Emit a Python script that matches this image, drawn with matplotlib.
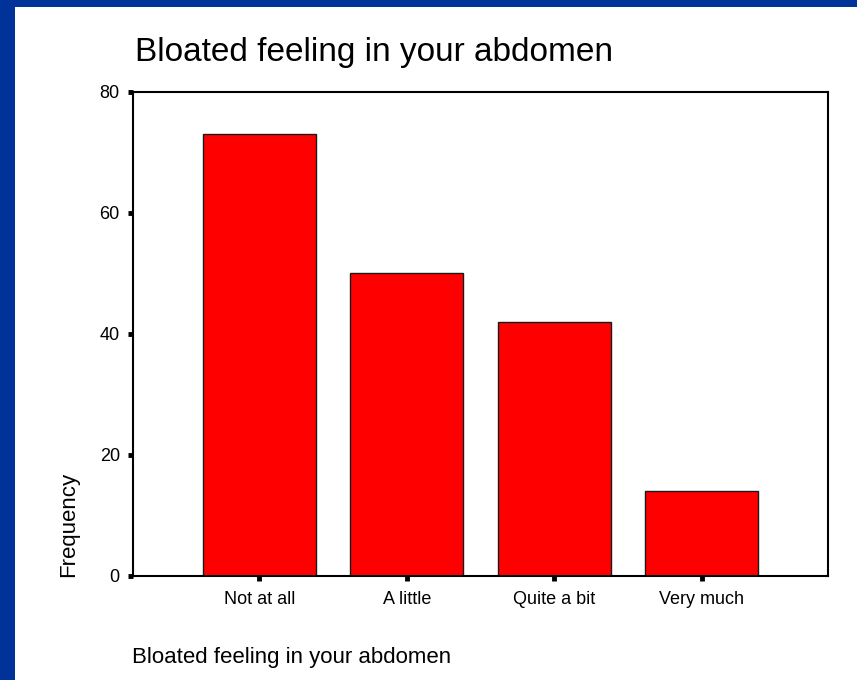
import matplotlib
matplotlib.use('Agg')
import matplotlib.pyplot as plt
from matplotlib.patches import Rectangle

# Data
categories = ['Not at all', 'A little', 'Quite a bit', 'Very much']
frequencies = [73, 50, 42, 14]
y_ticks = [0, 20, 40, 60, 80]

title_text = 'Bloated feeling in your abdomen'
xlabel_text = 'Bloated feeling in your abdomen'
ylabel_text = 'Frequency'

W, H = 857, 680
plt.rcParams['font.family'] = ['Liberation Sans', 'DejaVu Sans']

fig = plt.figure(figsize=(W / 100, H / 100), dpi=100)
fig.patch.set_facecolor('#003399')
# white panel (blue band only on the left and top)
fig.patches.append(Rectangle((15 / W, 0), 1 - 15 / W, 1 - 7 / H,
                             transform=fig.transFigure, facecolor='white',
                             edgecolor='none', zorder=-5))

left, right = 133 / W, 828 / W
bottom, top = 1 - 575.5 / H, 1 - 92 / H
ax = fig.add_axes([left, bottom, right - left, top - bottom])
ax.set_zorder(2)
ax.set_facecolor('white')

x = list(range(len(categories)))
ax.bar(x, frequencies, width=0.766, color='#ff0000', edgecolor='#1a1a1a',
       linewidth=1.0, zorder=2)

ax.set_xlim(-0.856, 3.856)
ax.set_ylim(0, 80)
ax.set_yticks(y_ticks)
ax.set_yticklabels([str(v) for v in y_ticks])
ax.set_xticks(x)
ax.set_xticklabels(categories)

for s in ax.spines.values():
    s.set_linewidth(1.5)
    s.set_color('black')
    s.set_zorder(3)

ax.tick_params(axis='y', direction='out', length=3.5, width=3.5,
               labelsize=13, pad=6, colors='black')
ax.tick_params(axis='x', direction='out', length=3.5, width=3.5,
               labelsize=13, pad=8, colors='black')

fig.text(135 / W, 1 - 61 / H, title_text, fontsize=24, ha='left',
         va='baseline', color='black')
fig.text(132.5 / W, 1 - 663 / H, xlabel_text, fontsize=16, ha='left',
         va='baseline', color='black')
fig.text(69 / W, 1 - 577 / H, ylabel_text, fontsize=16, rotation=90,
         ha='center', va='bottom', color='black')

fig.savefig('out.png', dpi=100, facecolor=fig.get_facecolor())
